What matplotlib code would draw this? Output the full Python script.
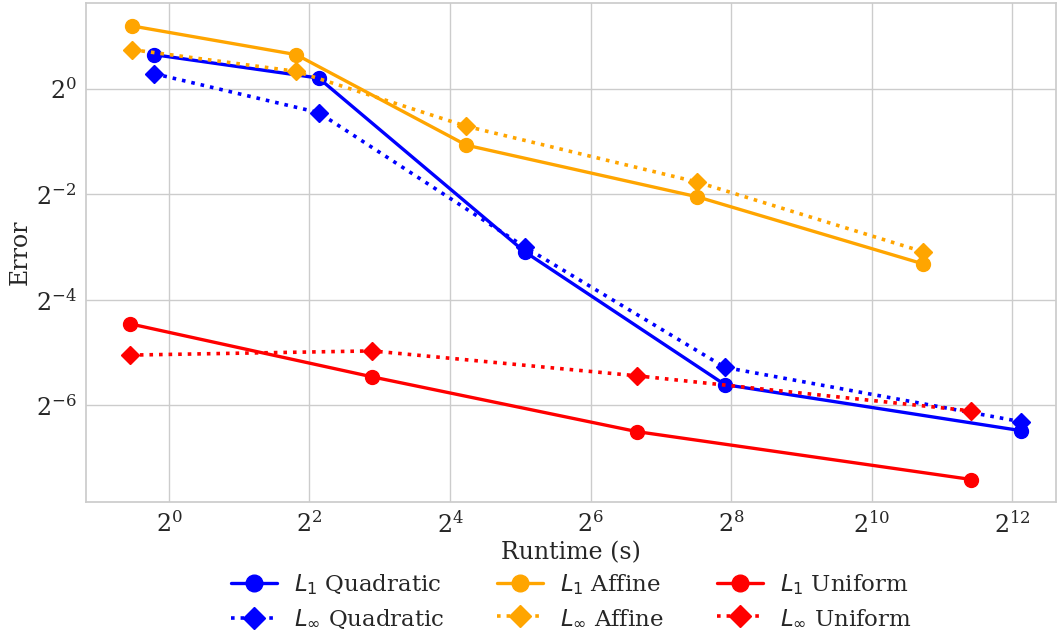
import numpy as np
import matplotlib
matplotlib.use("Agg")
import matplotlib.pyplot as plt
import matplotlib.ticker as mticker
import seaborn as sns

# runtime (s) and error for each method
quad_time = [0.863, 4.38, 33.4, 240.5, 4450.0]
quad_l1 = [1.563, 1.149, 0.1174, 0.0205, 0.0112]
quad_linf = [1.218, 0.730, 0.125, 0.0257, 0.0126]

affine_time = [0.694, 3.51, 18.8, 183.5, 1699.0]
affine_l1 = [2.28, 1.563, 0.476, 0.2415, 0.1001]
affine_linf = [1.669, 1.255, 0.610, 0.293, 0.1174]

uniform_time = [0.683, 7.41, 101.1, 2740.0]
uniform_l1 = [0.0455, 0.0227, 0.01105, 0.00589]
uniform_linf = [0.0302, 0.0319, 0.0230, 0.0145]

xtick_exp = [0, 2, 4, 6, 8, 10, 12]
ytick_exp = [-6, -4, -2, 0]

sns.set_theme(style="whitegrid")
plt.rcParams["font.family"] = ["DejaVu Serif"]
plt.rcParams["axes.edgecolor"] = ".8"

fig, ax = plt.subplots(figsize=(10.57, 6.36), dpi=100)
fig.subplots_adjust(left=0.0814, right=0.9995, top=0.995, bottom=0.211)

series = [
  (quad_time, quad_l1, quad_linf, "blue", "Quadratic"),
  (affine_time, affine_l1, affine_linf, "orange", "Affine"),
  (uniform_time, uniform_l1, uniform_linf, "red", "Uniform"),
]
for t, l1, linf, c, name in series:
  ax.plot(t, l1, "-o", color=c, lw=2.4, ms=10, label=rf"$L_1$ {name}")
for t, l1, linf, c, name in series:
  ax.plot(t, linf, ":D", color=c, lw=2.6, ms=9, label=rf"$L_\infty$ {name}")

ax.set_xscale("log", base=2)
ax.set_yscale("log", base=2)
ax.set_xlim(2 ** -1.18, 2 ** 12.63)
ax.set_ylim(2 ** -7.83, 2 ** 1.62)
ax.set_xticks([2.0**e for e in xtick_exp])
ax.set_yticks([2.0**e for e in ytick_exp])
ax.xaxis.set_major_formatter(mticker.LogFormatterMathtext(base=2))
ax.yaxis.set_major_formatter(mticker.LogFormatterMathtext(base=2))
ax.xaxis.set_minor_locator(mticker.NullLocator())
ax.yaxis.set_minor_locator(mticker.NullLocator())
ax.tick_params(labelsize=17, colors=".15", pad=1)

ax.set_xlabel("Runtime (s)", fontsize=17, color=".15", labelpad=2)
ax.set_ylabel("Error", fontsize=17, color=".15", labelpad=3)

handles, labels = ax.get_legend_handles_labels()
order = [0, 3, 1, 4, 2, 5]
ax.legend([handles[i] for i in order], [labels[i] for i in order],
          loc="upper center", bbox_to_anchor=(0.5, -0.1), ncol=3,
          frameon=False, fontsize=16.5, columnspacing=2.3,
          markerscale=1.2, handletextpad=0.75, labelspacing=0.45)

fig.savefig("out.png", dpi=100)
